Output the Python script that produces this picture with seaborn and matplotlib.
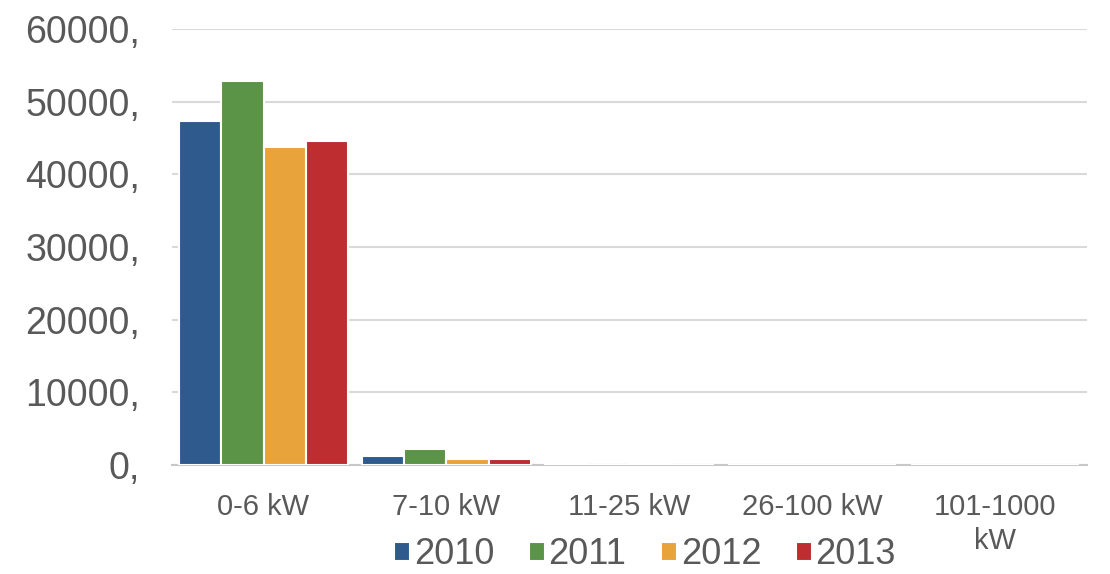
import pandas as pd
import matplotlib.pyplot as plt
import seaborn as sns

# Данные: установленные системы по классам мощности
categories = ["0-6 kW", "7-10 kW", "11-25 kW", "26-100 kW", "101-1000\nkW"]
years = ["2010", "2011", "2012", "2013"]
values_2010 = [47300, 1250, 150, 10, 2]
values_2011 = [52850, 2200, 60, 10, 2]
values_2012 = [43750, 880, 120, 10, 2]
values_2013 = [44550, 880, 50, 10, 2]
colors = ["#2E5A8E", "#5B9447", "#E8A33B", "#BE2D2F"]

rows = []
for year, vals in zip(years, [values_2010, values_2011, values_2012, values_2013]):
    for cat, v in zip(categories, vals):
        rows.append({"category": cat, "year": year, "value": v})
df = pd.DataFrame(rows)

sns.set_style("white")
plt.rcParams["font.family"] = ["Liberation Sans", "DejaVu Sans"]

fig = plt.figure(figsize=(11.1, 5.74), dpi=100)
ax = fig.add_axes([0.155, 0.190, 0.824, 0.759])

sns.barplot(data=df, x="category", y="value", hue="year", order=categories,
            hue_order=years, palette=colors, saturation=1, width=0.92,
            edgecolor="white", linewidth=1.5, ax=ax, zorder=3)

ax.set_ylim(0, 60000)
ax.set_yticks(range(0, 60001, 10000))
ax.set_yticklabels([f"{v}," for v in range(0, 60001, 10000)])
ax.yaxis.grid(True, color="#d9d9d9", linewidth=1.5, zorder=0)
ax.set_axisbelow(True)
ax.set_xlabel("")
ax.set_ylabel("")
ax.set_xlim(-0.5, 4.5)

for s in ["top", "right", "left"]:
    ax.spines[s].set_visible(False)
ax.spines["bottom"].set_color("#c8c8c8")
ax.spines["bottom"].set_linewidth(1.5)

ax.tick_params(axis="y", length=0, labelsize=27, labelcolor="#595959", pad=23)
ax.tick_params(axis="x", length=0, labelsize=21, labelcolor="#595959", pad=20)
for lbl in ax.get_xticklabels():
    lbl.set_verticalalignment("top")
    lbl.set_linespacing(1.3)

ax.legend(loc="center", bbox_to_anchor=(645 / 1110, 1 - 555 / 574),
          bbox_transform=fig.transFigure, ncol=4, frameon=False,
          fontsize=26, labelcolor="#595959", handlelength=0.45, handleheight=0.45,
          handletextpad=0.1, columnspacing=0.95, borderpad=0)

fig.savefig("out.png", dpi=100)
